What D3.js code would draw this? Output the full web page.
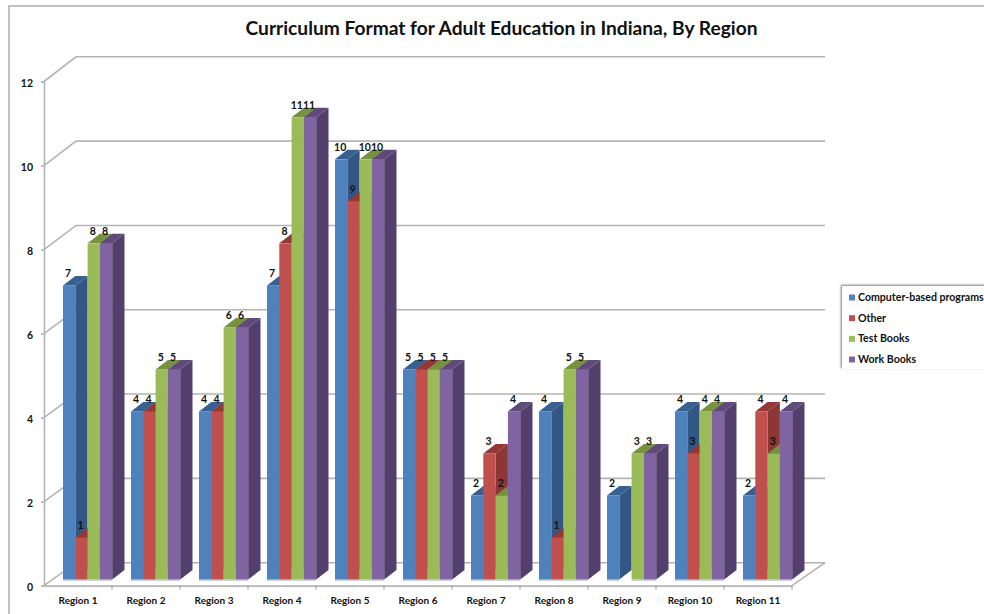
<!DOCTYPE html>
<html>
<head>
<meta charset="utf-8">
<script src="https://cdn.jsdelivr.net/npm/d3@7"></script>
<style>
    html, body { margin: 0; padding: 0; background: #fff; overflow: hidden; }
    text { font-family: Lato, "Open Sans", sans-serif; font-weight: 700; fill: #111; }
</style>
</head>
<body>
<svg id="canvas" width="984" height="614"></svg>
<script>
const regions = ["Region 1", "Region 2", "Region 3", "Region 4", "Region 5", "Region 6", "Region 7", "Region 8", "Region 9", "Region 10", "Region 11"];
const seriesNames = ["Computer-based programs", "Other", "Test Books", "Work Books"];
const computerBased = [7, 4, 4, 7, 10, 5, 2, 4, 2, 4, 2];
const other = [1, 4, 4, 8, 9, 5, 3, 1, null, 3, 4];
const testBooks = [8, 5, 6, 11, 10, 5, 2, 5, 3, 4, 3];
const workBooks = [8, 5, 6, 11, 10, 5, 4, 5, 3, 4, 4];
const yTicks = [0, 2, 4, 6, 8, 10, 12];
const titleText = "Curriculum Format for Adult Education in Indiana, By Region";

const seriesValues = [computerBased, other, testBooks, workBooks];
const frontColors = ["#4f81bd", "#c0504d", "#9bbb59", "#8064a2"];
const sideColors = ["#325785", "#8a3735", "#71893f", "#533f6c"];
const topColors = ["#376092", "#953735", "#76923c", "#5f4a7b"];
const gridColor = "#b4b4b4";

let canvas = d3.select("#canvas");

// outer frame of the chart area
canvas.append("path")
    .attr("d", "M984,6H9V614")
    .attr("fill", "none")
    .attr("stroke", "#c0c0c0")
    .attr("stroke-width", 2);

canvas.append("text")
    .attr("x", 501.5)
    .attr("y", 34.5)
    .attr("text-anchor", "middle")
    .attr("font-size", 19.2)
    .text(titleText);

// y is the front plane, yBack the back wall (a little taller because of the perspective)
let y = d3.scaleLinear().domain([0, 12]).range([585.7, 81.5]);
let yBack = d3.scaleLinear().domain([0, 12]).range([562.7, 56.8]);
let x = d3.scaleBand().domain(regions).range([44, 792]);
const wallDx = 32;

// bars sit a bit inside the floor
const barBase = y(0) - 6.2;
const barDx = 12.3;
const barDy = -9.5;
let barH = (v) => y(0) - y(v);
let inner = d3.scaleBand().domain(d3.range(4)).range([19, 68.2]);

// gridlines on the wall and the floor
let grid = canvas.append("g")
    .attr("fill", "none")
    .attr("stroke", gridColor)
    .attr("stroke-width", 1.6);

grid.selectAll("path")
    .data(yTicks)
    .enter()
    .append("path")
    .attr("d", (d) => "M44," + y(d) + "L" + (44 + wallDx) + "," + yBack(d) + "H825");

grid.append("path")
    .attr("d", "M792," + y(0) + "L825," + yBack(0));

// y axis
let yAxis = canvas.append("g")
    .attr("transform", "translate(44,0)")
    .call(d3.axisLeft(y).tickValues(yTicks).tickSize(3).tickPadding(8).tickFormat(d3.format("d")));
yAxis.selectAll("path, line").attr("stroke", gridColor).attr("stroke-width", 1.6);
yAxis.selectAll("text").attr("font-size", 10.5).attr("fill", "#111").attr("dy", "0.5em");

// x axis
let xAxis = canvas.append("g")
    .attr("transform", "translate(0," + y(0) + ")")
    .call(d3.axisBottom(x).tickSize(0).tickPadding(11));
xAxis.selectAll("path").attr("stroke", gridColor).attr("stroke-width", 1.8);
xAxis.selectAll("text").attr("font-size", 10).attr("fill", "#111");

xAxis.selectAll("line.sep")
    .data(regions)
    .enter()
    .append("line")
    .attr("class", "sep")
    .attr("x1", (d) => x(d) + x.bandwidth())
    .attr("x2", (d) => x(d) + x.bandwidth())
    .attr("y1", 0)
    .attr("y2", 4)
    .attr("stroke", "#999");

// flat list of the bars, left to right so the later bar covers the side of the earlier one
let bars = [];
regions.forEach((region, r) => {
    seriesValues.forEach((values, s) => {
        if (values[r] !== null) {
            bars.push({ region: region, s: s, value: values[r] });
        }
    });
});

let barX = (d) => x(d.region) + inner(d.s);
let barW = inner.bandwidth();

let barGroups = canvas.append("g")
    .selectAll("g")
    .data(bars)
    .enter()
    .append("g");

// base shadow
barGroups.append("rect")
    .attr("x", barX)
    .attr("y", barBase)
    .attr("width", barW)
    .attr("height", 1.5)
    .attr("fill", "#c9d0dc");

barGroups.append("path")
    .attr("fill", (d) => sideColors[d.s])
    .attr("d", (d) => {
        let xx = barX(d) + barW;
        let h = barH(d.value);
        return "M" + xx + "," + barBase + "v" + (-h) + "l" + barDx + "," + barDy + "v" + h + "z";
    });

barGroups.append("path")
    .attr("fill", (d) => topColors[d.s])
    .attr("d", (d) => {
        let top = barBase - barH(d.value);
        return "M" + barX(d) + "," + top + "l" + barDx + "," + barDy + "h" + barW + "l" + (-barDx) + "," + (-barDy) + "z";
    });

barGroups.append("rect")
    .attr("x", barX)
    .attr("y", (d) => barBase - barH(d.value))
    .attr("width", barW)
    .attr("height", (d) => barH(d.value))
    .attr("fill", (d) => frontColors[d.s]);

// value labels go on top of every bar
canvas.append("g")
    .selectAll("text")
    .data(bars)
    .enter()
    .append("text")
    .attr("x", (d) => barX(d) + barW / 2 - 1)
    .attr("y", (d) => barBase - barH(d.value) - 8.5)
    .attr("text-anchor", "middle")
    .attr("font-size", 10.5)
    .text((d) => d.value);

// legend, cut by the right edge of the picture
canvas.append("defs")
    .append("filter")
    .attr("id", "legendShadow")
    .attr("x", "-5%")
    .attr("y", "-10%")
    .attr("width", "110%")
    .attr("height", "115%")
    .append("feDropShadow")
    .attr("dx", -1)
    .attr("dy", -1)
    .attr("stdDeviation", 1)
    .attr("flood-color", "#777");

canvas.append("rect")
    .attr("x", 842)
    .attr("y", 286)
    .attr("width", 160)
    .attr("height", 83)
    .attr("fill", "#fff")
    .attr("filter", "url(#legendShadow)");

let legendY = d3.scalePoint().domain(seriesNames).range([297.5, 359.5]);

let legend = canvas.append("g")
    .selectAll("g")
    .data(seriesNames)
    .enter()
    .append("g")
    .attr("transform", (d) => "translate(849," + legendY(d) + ")");

legend.append("rect")
    .attr("y", -3)
    .attr("width", 6)
    .attr("height", 6)
    .attr("fill", (d, i) => frontColors[i]);

legend.append("text")
    .attr("x", 9)
    .attr("y", 3.5)
    .attr("font-size", 10.6)
    .text((d) => d);
</script>
</body>
</html>
